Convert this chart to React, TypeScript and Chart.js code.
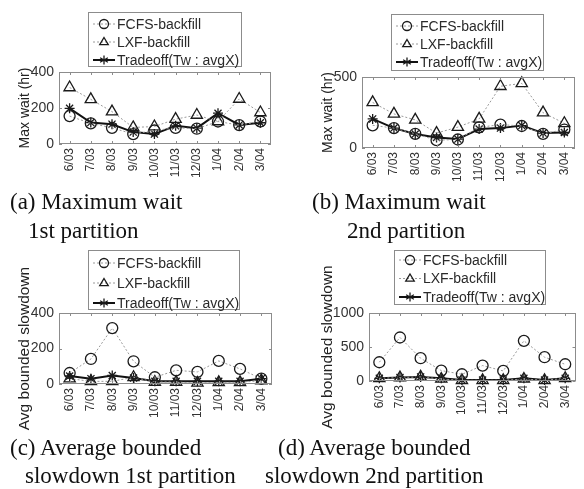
import React, { useEffect, useRef } from "react";
import { Chart, registerables } from "chart.js";

Chart.register(...registerables);

// ---------- data ----------
const categories = ["6/03", "7/03", "8/03", "9/03", "10/03", "11/03", "12/03", "1/04", "2/04", "3/04"];
const seriesNames = ["FCFS-backfill", "LXF-backfill", "Tradeoff(Tw : avgX)"];

const waitP1FCFS = [155, 115, 90, 55, 75, 90, 85, 125, 105, 125];
const waitP1LXF = [314, 248, 180, 92, 97, 138, 161, 125, 250, 175];
const waitP1Trade = [198, 119, 110, 66, 55, 101, 88, 171, 106, 118];

const waitP2FCFS = [160, 140, 100, 55, 60, 145, 165, 155, 100, 130];
const waitP2LXF = [321, 240, 198, 105, 147, 205, 435, 455, 249, 174];
const waitP2Trade = [205, 140, 98, 74, 63, 133, 140, 158, 105, 109];

const slowP1FCFS = [62, 141, 315, 128, 38, 77, 68, 130, 85, 30];
const slowP1LXF = [30, 15, 15, 38, 11, 11, 6, 9, 9, 19];
const slowP1Trade = [45, 30, 48, 34, 15, 15, 15, 15, 15, 30];

const slowP2FCFS = [276, 640, 335, 153, 99, 227, 148, 591, 350, 246];
const slowP2LXF = [40, 50, 60, 30, 10, 10, 10, 30, 10, 40];
const slowP2Trade = [40, 50, 60, 40, 15, 15, 15, 40, 15, 40];

const yTitles = ["Max wait (hr)", "Max wait (hr)", "Avg bounded slowdown", "Avg bounded slowdown"];
const yMaxes = [400, 500, 400, 1000];
const yTickSteps = [200, 500, 200, 500];

const captions = [
  ["(a) Maximum wait", "1st partition"],
  ["(b) Maximum wait", "2nd partition"],
  ["(c) Average bounded", "slowdown 1st partition"],
  ["(d) Average bounded", "slowdown 2nd partition"],
];

// ---------- layout ----------
type Panel = {
  left: number; top: number; w: number; h: number;
  pad: { top: number; right: number }; yWidth: number; xHeight: number;
  titleSize: number; titlePad: number;
  legend: { x: number; y: number; w: number; h: number; first: number; step: number };
  series: number[][];
};

const panels: Panel[] = [
  { left: 0, top: 0, w: 292, h: 190, pad: { top: 72, right: 21 }, yWidth: 59, xHeight: 46,
    titleSize: 14, titlePad: 16.6, legend: { x: 88, y: 12, w: 154, h: 55, first: 12, step: 18 },
    series: [waitP1FCFS, waitP1LXF, waitP1Trade] },
  { left: 292, top: 0, w: 292, h: 190, pad: { top: 77, right: 9 }, yWidth: 70, xHeight: 42,
    titleSize: 14, titlePad: 28, legend: { x: 99, y: 14, w: 153, h: 57, first: 12, step: 18 },
    series: [waitP2FCFS, waitP2LXF, waitP2Trade] },
  { left: 0, top: 245, w: 292, h: 190, pad: { top: 68, right: 20 }, yWidth: 59, xHeight: 51,
    titleSize: 15.5, titlePad: 15.7, legend: { x: 88, y: 5, w: 152, h: 60, first: 13, step: 20 },
    series: [slowP1FCFS, slowP1LXF, slowP1Trade] },
  { left: 292, top: 245, w: 292, h: 190, pad: { top: 68, right: 8 }, yWidth: 77, xHeight: 54,
    titleSize: 15.5, titlePad: 26.7, legend: { x: 102, y: 5, w: 152, h: 55, first: 10, step: 18.5 },
    series: [slowP2FCFS, slowP2LXF, slowP2Trade] },
];

const captionPos = [
  [{ x: 10, y: 188 }, { x: 28, y: 217 }],
  [{ x: 312, y: 188 }, { x: 347, y: 217 }],
  [{ x: 10, y: 434 }, { x: 25, y: 462 }],
  [{ x: 278, y: 434 }, { x: 265, y: 462 }],
];

const SANS = "'Liberation Sans', Arial, sans-serif";

function drawMarker(ctx: CanvasRenderingContext2D, style: string, x: number, y: number, r: number) {
  ctx.beginPath();
  if (style === "circle") {
    ctx.arc(x, y, r, 0, Math.PI * 2);
  } else if (style === "triangle") {
    ctx.moveTo(x, y - r);
    ctx.lineTo(x + r * 0.95, y + r * 0.6);
    ctx.lineTo(x - r * 0.95, y + r * 0.6);
    ctx.closePath();
  } else {
    for (let k = 0; k < 3; k++) {
      const a = (k * Math.PI) / 3 + Math.PI / 2;
      ctx.moveTo(x + Math.cos(a) * r, y + Math.sin(a) * r);
      ctx.lineTo(x - Math.cos(a) * r, y - Math.sin(a) * r);
    }
  }
  ctx.stroke();
}

const frameAndLegend = {
  id: "frameAndLegend",
  afterDraw(chart: any, _args: any, opts: any) {
    const { ctx, chartArea: ca, scales } = chart;
    ctx.save();
    ctx.strokeStyle = "#8c8c8c";
    ctx.lineWidth = 1;
    ctx.setLineDash([]);
    ctx.strokeRect(Math.round(ca.left) + 0.5, Math.round(ca.top) + 0.5,
      Math.round(ca.right - ca.left) - 1, Math.round(ca.bottom - ca.top) - 1);
    const xs = scales.x;
    for (let i = 0; i < xs.ticks.length; i++) {
      const px = Math.round(xs.getPixelForTick(i)) + 0.5;
      ctx.beginPath();
      ctx.moveTo(px, ca.bottom); ctx.lineTo(px, ca.bottom - 3);
      ctx.moveTo(px, ca.top); ctx.lineTo(px, ca.top + 3);
      ctx.stroke();
    }
    const ys = scales.y;
    for (let i = 0; i < ys.ticks.length; i++) {
      const py = Math.round(ys.getPixelForTick(i)) + 0.5;
      ctx.beginPath();
      ctx.moveTo(ca.left, py); ctx.lineTo(ca.left + 3, py);
      ctx.moveTo(ca.right, py); ctx.lineTo(ca.right - 3, py);
      ctx.stroke();
    }
    // legend box
    const L = opts.box;
    ctx.fillStyle = "#ffffff";
    ctx.fillRect(L.x, L.y, L.w, L.h);
    ctx.strokeStyle = "#8c8c8c";
    ctx.strokeRect(L.x + 0.5, L.y + 0.5, L.w - 1, L.h - 1);
    chart.data.datasets.forEach((ds: any, i: number) => {
      const y = L.y + L.first + L.step * i;
      ctx.save();
      ctx.strokeStyle = ds.borderColor;
      ctx.lineWidth = ds.borderWidth;
      ctx.setLineDash(ds.borderDash || []);
      ctx.beginPath();
      ctx.moveTo(L.x + 5, y); ctx.lineTo(L.x + 27, y);
      ctx.stroke();
      ctx.setLineDash([]);
      ctx.strokeStyle = ds.pointBorderColor;
      ctx.lineWidth = 1.3;
      drawMarker(ctx, ds.pointStyle, L.x + 16, y, 4.5);
      ctx.restore();
      ctx.fillStyle = "#2a2a2a";
      ctx.font = `14px ${SANS}`;
      ctx.textBaseline = "middle";
      ctx.textAlign = "left";
      ctx.fillText(ds.label, L.x + 29, y + 1);
    });
    ctx.restore();
  },
};

function PanelChart({ idx }: { idx: number }) {
  const ref = useRef<HTMLCanvasElement | null>(null);
  const p = panels[idx];
  useEffect(() => {
    if (!ref.current) return;
    const styles = [
      { color: "#9a9a9a", dash: [2, 2], width: 1, point: "circle", radius: 5.5 },
      { color: "#9a9a9a", dash: [2, 2], width: 1, point: "triangle", radius: 6.5 },
      { color: "#111111", dash: [], width: 2, point: "star", radius: 5 },
    ];
    const chart = new Chart(ref.current, {
      type: "line",
      data: {
        labels: categories,
        datasets: p.series.map((s, i) => ({
          label: seriesNames[i],
          data: s,
          borderColor: styles[i].color,
          borderDash: styles[i].dash,
          borderWidth: styles[i].width,
          pointStyle: styles[i].point,
          pointRadius: styles[i].radius,
          pointBorderColor: "#1a1a1a",
          pointBackgroundColor: "rgba(0,0,0,0)",
          pointBorderWidth: 1.3,
          tension: 0,
          fill: false,
          clip: false,
        })),
      },
      options: {
        responsive: false,
        animation: false,
        layout: { padding: { top: p.pad.top, right: p.pad.right, left: 0, bottom: 0 } },
        plugins: {
          legend: { display: false },
          tooltip: { enabled: false },
          frameAndLegend: { box: p.legend },
        } as any,
        scales: {
          x: {
            type: "category",
            offset: true,
            grid: { display: false, drawTicks: false, tickLength: 0 },
            border: { display: false },
            ticks: {
              minRotation: 90,
              maxRotation: 90,
              autoSkip: false,
              padding: 4,
              color: "#333",
              font: { family: SANS, size: 12 },
            },
            afterFit: (s: any) => { s.height = p.xHeight; },
          },
          y: {
            min: 0,
            max: yMaxes[idx],
            grid: { display: false, drawTicks: false, tickLength: 0 },
            border: { display: false },
            ticks: {
              stepSize: yTickSteps[idx],
              padding: 5,
              color: "#333",
              font: { family: SANS, size: 14 },
              callback: (v: any) => String(v),
            },
            title: {
              display: true,
              text: yTitles[idx],
              color: "#222",
              font: { family: SANS, size: p.titleSize },
              padding: { top: p.titlePad, bottom: 0 },
            },
            afterFit: (s: any) => { s.width = p.yWidth; },
          },
        },
      },
      plugins: [frameAndLegend as any],
    });
    return () => chart.destroy();
  }, [idx]);
  return (
    <canvas
      ref={ref}
      width={p.w}
      height={p.h}
      style={{ position: "absolute", left: p.left, top: p.top, width: p.w, height: p.h }}
    />
  );
}

export default function App() {
  return (
    <div style={{ position: "absolute", left: 0, top: 0, width: 584, height: 489, background: "#fff", overflow: "hidden" }}>
      {panels.map((_, i) => <PanelChart key={i} idx={i} />)}
      {captions.map((lines, i) =>
        lines.map((t, j) => (
          <div
            key={`${i}-${j}`}
            style={{
              position: "absolute",
              left: captionPos[i][j].x,
              top: captionPos[i][j].y,
              fontFamily: "'Liberation Serif', 'Times New Roman', serif",
              fontSize: 23,
              lineHeight: "28px",
              whiteSpace: "nowrap",
              color: "#111",
            }}
          >
            {t}
          </div>
        ))
      )}
    </div>
  );
}
